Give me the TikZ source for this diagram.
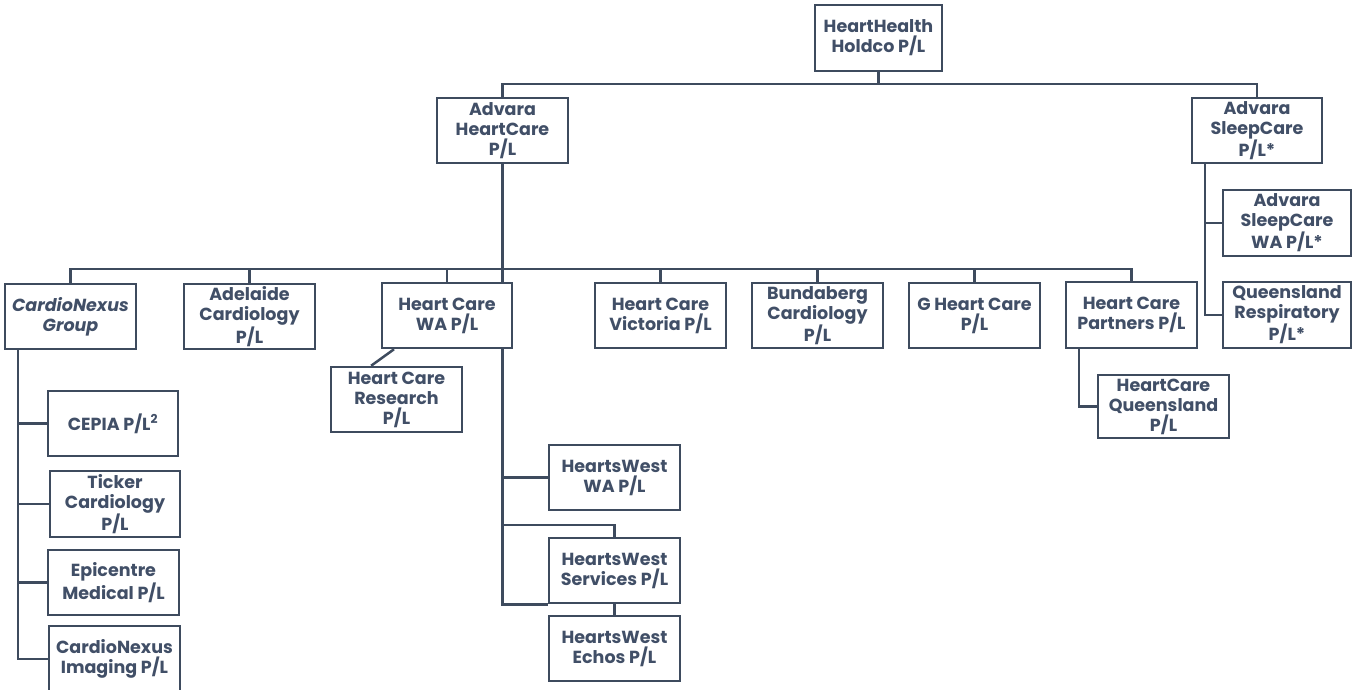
\documentclass[tikz,border=0pt]{standalone}
\usepackage{fontspec}
\setmainfont{Poppins}
\usetikzlibrary{calc}
\definecolor{lc}{HTML}{3E4B5E}
\definecolor{tc}{HTML}{414F67}
\begin{document}
\begin{tikzpicture}[x=1pt,y=-1pt,
  box/.style={draw=lc, line width=2.5pt, fill=white, rectangle, inner sep=0pt,
    minimum width=131pt, minimum height=65pt, align=center, text=tc,
    font=\fontsize{17.5}{20}\selectfont\bfseries},
  conn/.style={draw=lc, line width=2.5pt}]
\useasboundingbox (0,0) rectangle (1353,690);
% boxes
\node[box, minimum width=127pt, minimum height=66pt] (holdco) at (878.5,38) {HeartHealth\\Holdco P/L};
\node[box] (ahc) at (502.5,130.5) {Advara\\HeartCare\\P/L};
\node[box, minimum width=130pt] (asc) at (1257,130.5) {Advara\\SleepCare\\P/L*};
\node[box, minimum width=128pt, minimum height=66pt] (ascwa) at (1287,223) {Advara\\SleepCare\\WA P/L*};
\node[box, minimum width=128pt, minimum height=66pt] (qr) at (1287,315) {Queensland\\Respiratory\\P/L*};
\node[box] (cng) at (70.5,316.5) {\itshape CardioNexus\\\itshape Group};
\node[box] (adel) at (249.5,316.5) {Adelaide\\Cardiology\\P/L};
\node[box, minimum width=130pt] (wa) at (447,315.5) {Heart Care\\WA P/L};
\node[box] (hcr) at (396.5,399.5) {Heart Care\\Research\\P/L};
\node[box] (vic) at (660.5,315.5) {Heart Care\\Victoria P/L};
\node[box] (bund) at (817.5,315.5) {Bundaberg\\Cardiology\\P/L};
\node[box] (ghc) at (974.5,315.5) {G Heart Care\\P/L};
\node[box, minimum height=66pt] (hcp) at (1131.5,315) {Heart Care\\Partners P/L};
\node[box, minimum height=63pt] (hcq) at (1163.5,406.5) {HeartCare\\Queensland\\P/L};
\node[box, minimum width=130pt] (cepia) at (113,423.5) {CEPIA P/L\textsuperscript{2}};
\node[box, minimum width=130pt, minimum height=66pt] (ticker) at (115,504) {Ticker\\Cardiology\\P/L};
\node[box] (epic) at (113.5,582.5) {Epicentre\\Medical P/L};
\node[box, minimum height=66pt] (cni) at (114.5,659) {CardioNexus\\Imaging P/L};
\node[box] (hwwa) at (614.5,477.5) {HeartsWest\\WA P/L};
\node[box] (hws) at (614.5,570.5) {HeartsWest\\Services P/L};
\node[box] (hwe) at (614.5,648.5) {HeartsWest\\Echos P/L};
% coordinates
\coordinate (topbus) at (0,84);
\coordinate (bus) at (0,269);
\coordinate (cnx) at (18,349);
\coordinate (scx) at (1205,163);
\coordinate (hpx) at (1079,348);
\coordinate (hwbus) at (0,525);
% connectors
\draw[conn] (holdco.south) -- (holdco.south |- topbus);
\draw[conn] (ahc.north) -- (ahc.north |- topbus) -| (asc.north);
\draw[conn] (cng.north) -- (cng.north |- bus) -| (hcp.north);
\draw[conn] (adel.north) -- (adel.north |- bus);
\draw[conn] (wa.north) -- (wa.north |- bus);
\draw[conn] (vic.north) -- (vic.north |- bus);
\draw[conn] (bund.north) -- (bund.north |- bus);
\draw[conn] (ghc.north) -- (ghc.north |- bus);
\draw[conn] (ahc.south) -- (ahc.south |- wa.north);
\draw[conn] ($(wa.south west)!0.1!(wa.south east)$) -- ($(hcr.north west)!0.31!(hcr.north east)$);
\draw[conn] (wa.south -| ahc.south) -- (ahc.south |- hws.south) -- (hws.south west);
\draw[conn] (hwwa.west) -- (hwwa.west -| ahc.south);
\draw[conn] (ahc.south |- hwbus) -| (hws.north);
\draw[conn] (hws.south) -- (hwe.north);
\draw[conn] (cnx) |- (cni.west);
\draw[conn] (cepia.west) -- (cepia.west -| cnx);
\draw[conn] (ticker.west) -- (ticker.west -| cnx);
\draw[conn] (epic.west) -- (epic.west -| cnx);
\draw[conn] (scx) |- (qr.west);
\draw[conn] (ascwa.west) -- (ascwa.west -| scx);
\draw[conn] (hpx) |- (hcq.west);
\end{tikzpicture}
\end{document}
